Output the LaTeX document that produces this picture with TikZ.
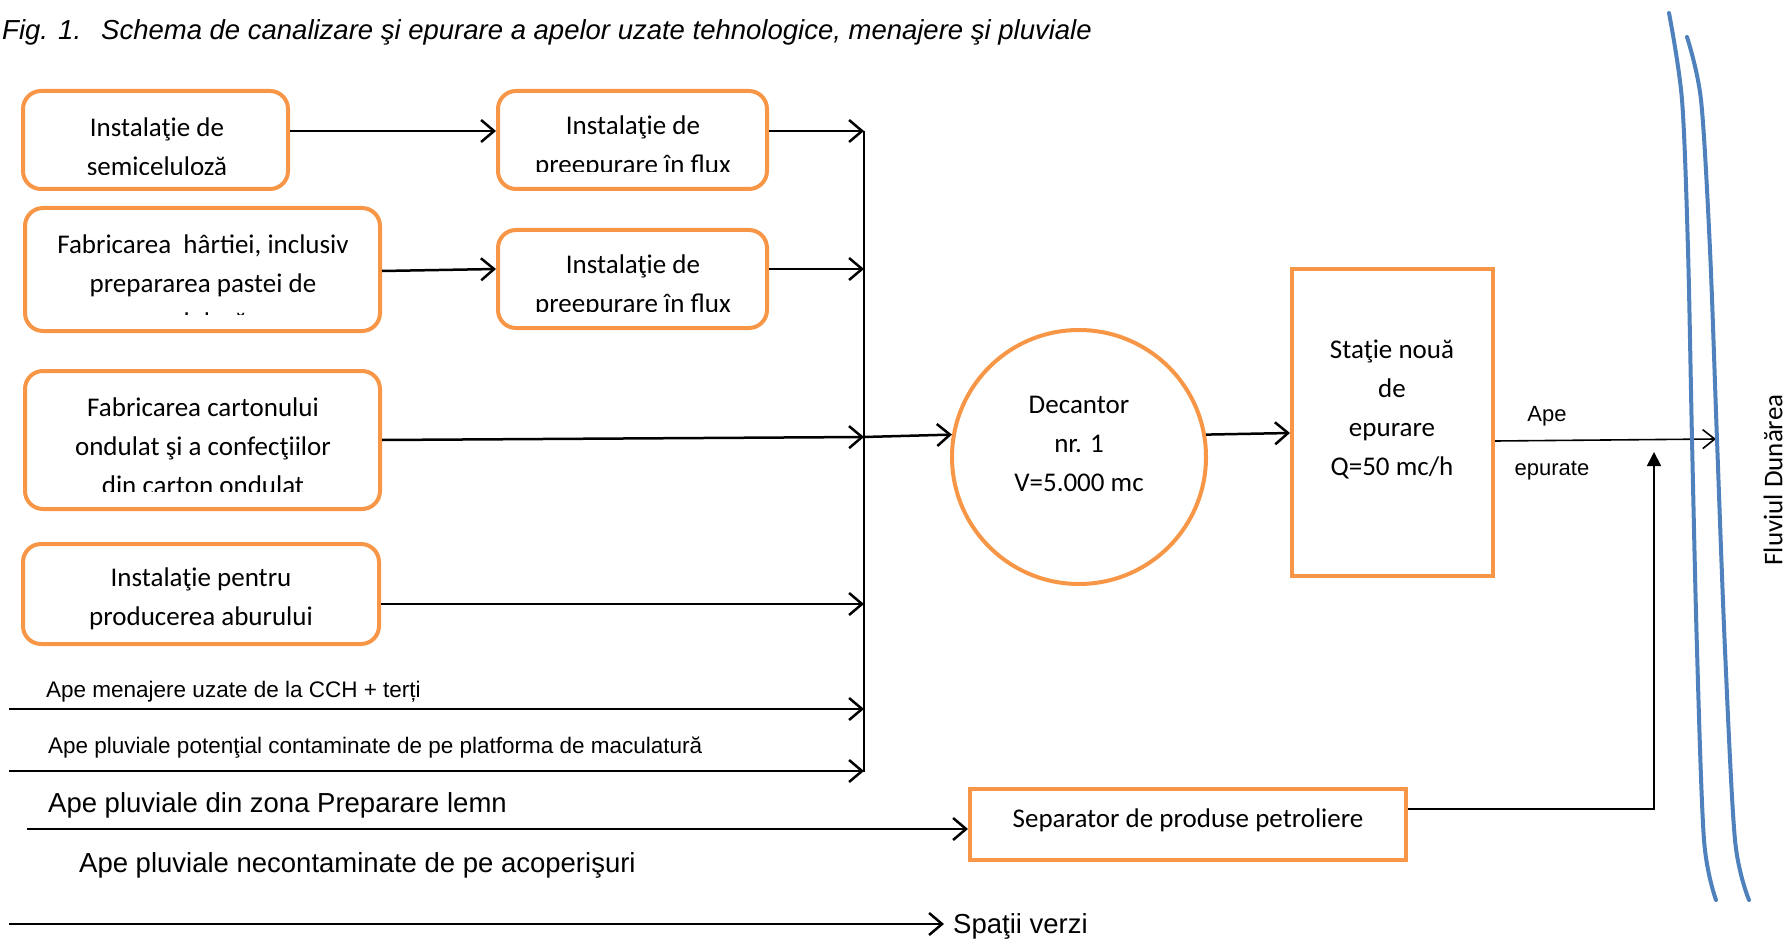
\documentclass[tikz,border=0pt]{standalone}
\usepackage{fontspec}
\setmainfont{Carlito}
\newfontfamily\arialf{Liberation Sans}
\usetikzlibrary{arrows.meta,calc}
\definecolor{boxorange}{HTML}{F79646}
\definecolor{riverblue}{HTML}{4F81BD}
\begin{document}
\begin{tikzpicture}[x=1pt,y=-1pt,
  rbox/.style={draw=boxorange, line width=4pt, rounded corners=18pt, inner sep=0pt},
  sbox/.style={draw=boxorange, line width=4pt, inner sep=0pt},
  btext/.style={font=\fontsize{27}{39}\selectfont, align=center, inner sep=0pt},
  ltext/.style={font=\arialf\fontsize{22.5}{27}\selectfont, inner sep=0pt, anchor=base west},
  btext2/.style={font=\arialf\fontsize{27.5}{33}\selectfont, inner sep=0pt, anchor=base west},
  flow/.style={line width=2.5pt, -{Straight Barb[length=13pt,width=22pt]}},
  thinflow/.style={line width=1.6pt, -{Straight Barb[length=12pt,width=19pt]}},
  river/.style={draw=riverblue, line width=4pt, line cap=round}
]
\useasboundingbox (0,0) rectangle (1788,941);

% title
\node[btext2, font=\arialf\itshape\fontsize{27.5}{33}\selectfont] (fig) at (2,40) {Fig. 1.};
\node[btext2, font=\arialf\itshape\fontsize{27.5}{33}\selectfont] (ttl) at (101,40) {Schema de canalizare şi epurare a apelor uzate tehnologice, menajere şi pluviale};

% boxes
\node[rbox, minimum width=265pt, minimum height=98pt] (b1) at (155.5,140) {};
\node[rbox, minimum width=269pt, minimum height=98pt] (p1) at (632.5,140) {};
\node[rbox, minimum width=355pt, minimum height=123pt] (b2) at (202.5,269.5) {};
\node[rbox, minimum width=269pt, minimum height=98pt] (p2) at (632.5,279) {};
\node[rbox, minimum width=355pt, minimum height=138pt] (b3) at (202.5,440) {};
\node[rbox, minimum width=356pt, minimum height=100pt] (b4) at (201,594) {};
\node[draw=boxorange, line width=4pt, circle, minimum size=254pt, inner sep=0pt] (dec) at (1079,457) {};
\node[sbox, minimum width=201pt, minimum height=307pt] (st) at (1392.5,422.5) {};
\node[sbox, minimum width=436pt, minimum height=71pt] (sep) at (1188,824.5) {};

% box texts (clipped like the original text frames)
\begin{scope}
  \clip (23,91) rectangle (288,175);
  \node[btext] (t1) at (157,146.5) {Instalaţie de\\semiceluloză};
\end{scope}
\begin{scope}
  \clip (498,91) rectangle (767,172);
  \node[btext] (t2) at (633,147) {Instalaţie de\\preepurare în flux};
\end{scope}
\begin{scope}
  \clip (25,208) rectangle (380,314);
  \node[btext] (t3) at (203,283) {Fabricarea~ hârtiei, inclusiv\\prepararea pastei de\\celuloză};
\end{scope}
\begin{scope}
  \clip (498,230) rectangle (767,311);
  \node[btext] (t4) at (633,286) {Instalaţie de\\preepurare în flux};
\end{scope}
\begin{scope}
  \clip (25,371) rectangle (380,491);
  \node[btext] (t5) at (203,446.5) {Fabricarea cartonului\\ondulat şi a confecţiilor\\din carton ondulat};
\end{scope}
\node[btext] (t6) at (201,598.5) {Instalaţie pentru\\producerea aburului};
\node[btext] (t7) at (1079,444) {Decantor\\nr. 1\\V=5.000 mc};
\node[btext] (t8) at (1392,409) {Staţie nouă\\de\\epurare\\Q=50 mc/h};
\node[btext] (t9) at (1188,820) {Separator de produse petroliere};

% collector
\coordinate (ctop) at (864,131);
\coordinate (c2) at (864,269);
\coordinate (c3) at (864,437);
\coordinate (c4) at (864,604);
\coordinate (c5) at (864,709);
\coordinate (c6) at (864,771);
\draw[line width=2.5pt] (ctop) -- (864,772.2);

\draw[flow] ($(b1.east)+(0,-9)$) -- ($(p1.west)+(0,-9)$);
\draw[flow] ($(p1.east)+(0,-9)$) -- (ctop);
\draw[flow] ($(b2.east)+(0,1.5)$) -- ($(p2.west)+(0,-10)$);
\draw[flow] ($(p2.east)+(0,-10)$) -- (c2);
\draw[flow] (b3.east) -- (c3);
\draw[flow] ($(b4.east)+(0,10)$) -- (c4);
\draw[flow] (c3) -- (dec.170);

% side inflows
\coordinate (m0) at (9,709);
\coordinate (pp0) at (9,771);
\coordinate (pl0) at (27,829);
\coordinate (sv0) at (9,924);
\draw[flow] (m0) -- (c5);
\draw[flow] (pp0) -- (c6);
\draw[flow] (pl0) -- ($(sep.west)+(0,4.5)$);
\node[btext2, anchor=west] (sv) at (953,926) {Spaţii verzi};
\draw[flow] (sv0) -- ($(sv0 -| sv.west)+(-9,0)$);

\node[ltext] (lm) at (46,697) {Ape menajere uzate de la CCH + terți};
\node[ltext] (lp) at (48,753) {Ape pluviale potenţial contaminate de pe platforma de maculatură};
\node[btext2] (ll) at (48,812) {Ape pluviale din zona Preparare lemn};
\node[btext2] (la) at (79,872) {Ape pluviale necontaminate de pe acoperişuri};

% treatment chain
\draw[flow] (dec.10) -- ($(st.west)+(0,10.5)$);
\coordinate (rv) at (1716,439);
\draw[thinflow] ($(st.east)+(0,18.5)$) -- (rv);
\node[font=\arialf\fontsize{22}{26}\selectfont, inner sep=0pt] (ape) at (1547,416) {Ape};
\node[font=\arialf\fontsize{22}{26}\selectfont, inner sep=0pt] (epu) at (1552,471) {epurate};
\coordinate (sepup) at (1654,452);
\draw[line width=1.7pt, -{Triangle[length=14pt,width=14pt]}] ($(sep.east)+(0,-15.5)$) -| (sepup);

% river
\draw[river] plot[smooth] coordinates {(1669,13) (1682,100) (1688,250) (1692,440) (1697,650) (1704,840) (1716,900)};
\draw[river] plot[smooth] coordinates {(1687,37) (1701,100) (1710,250) (1717,440) (1725,650) (1735,840) (1749,900)};
\node[rotate=90, font=\fontsize{27}{32}\selectfont, inner sep=0pt] (fl) at (1773,480) {Fluviul Dunărea};
\end{tikzpicture}
\end{document}
